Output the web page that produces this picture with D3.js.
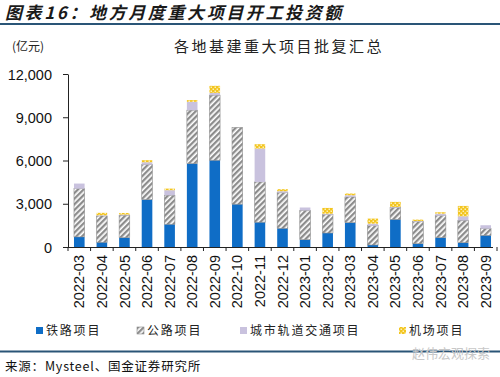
<!DOCTYPE html>
<html><head><meta charset="utf-8">
<script src="https://cdn.jsdelivr.net/npm/d3@7"></script>
<style>body{margin:0;background:#fff}svg{display:block}</style>
</head><body>
<script>
const categories = ["2022-03","2022-04","2022-05","2022-06","2022-07","2022-08","2022-09","2022-10","2022-11","2022-12","2023-01","2023-02","2023-03","2023-04","2023-05","2023-06","2023-07","2023-08","2023-09"];
const railway = [700,330,650,3290,1580,5790,6020,2970,1720,1300,510,970,1690,140,1920,230,650,300,810];
const highway = [3350,1820,1550,2430,2010,3700,4510,5320,2790,2470,2030,1280,1780,1340,820,1530,1530,1550,470];
const metro   = [350,50,50,160,350,580,160,0,2320,100,200,60,120,140,40,40,130,280,230];
const airport = [0,170,110,140,110,120,490,0,300,140,0,400,120,350,350,100,100,720,0];
const seriesNames = ["铁路项目","公路项目","城市轨道交通项目","机场项目"];
const yTicks = [0,3000,6000,9000,12000];

const W=500,H=377;
const svg=d3.select("body").append("svg").attr("width",W).attr("height",H);
const defs=svg.append("defs");
// hatch pattern
const hp=defs.append("pattern").attr("id","hatch").attr("patternUnits","userSpaceOnUse")
  .attr("width",4).attr("height",4).attr("patternTransform","rotate(45)");
hp.append("rect").attr("width",4).attr("height",4).attr("fill","#ffffff");
hp.append("rect").attr("width",2.3).attr("height",4).attr("fill","#8c8c8c");
// airport checker
const cp=defs.append("pattern").attr("id","check").attr("patternUnits","userSpaceOnUse")
  .attr("width",4).attr("height",4);
cp.append("rect").attr("width",4).attr("height",4).attr("fill","#f3c51f");
cp.append("rect").attr("x",0.5).attr("y",0.5).attr("width",1.5).attr("height",1.5).attr("fill","#fcefb5");
cp.append("rect").attr("x",2.5).attr("y",2.5).attr("width",1.5).attr("height",1.5).attr("fill","#fcefb5");

const fills=["#0f6dc6","url(#hatch)","#c9c2de","url(#check)"];
const strokes=["none","#8c8c8c","none","none"];

// Title
svg.append("text").attr("x",5).attr("y",19).text("图表16：地方月度重大项目开工投资额")
  .attr("font-family","Noto Sans CJK SC").attr("font-size",17).attr("font-weight","bold")
  .attr("font-style","italic").attr("letter-spacing",2.6).attr("fill","#1a1a1a");
svg.append("rect").attr("x",0).attr("y",23).attr("width",W).attr("height",2).attr("fill","#2a5577");
svg.append("rect").attr("x",0).attr("y",350.5).attr("width",W).attr("height",2).attr("fill","#2a5577");

svg.append("text").attr("x",12).attr("y",51).text("(亿元)")
  .attr("font-family","Noto Sans CJK SC").attr("font-size",12).attr("fill","#222");
svg.append("text").attr("x",279).attr("y",52).attr("text-anchor","middle").text("各地基建重大项目批复汇总")
  .attr("font-family","Noto Sans CJK SC").attr("font-size",15).attr("letter-spacing",2.5).attr("fill","#222");

const x=d3.scaleBand().domain(categories).range([68,497]).paddingInner(0.53).paddingOuter(0.265);
const y=d3.scaleLinear().domain([0,12000]).range([247,74]);

const data=categories.map((c,i)=>({cat:c,s0:railway[i],s1:highway[i],s2:metro[i],s3:airport[i]}));
const stack=d3.stack().keys(["s0","s1","s2","s3"])(data);

const g=svg.append("g");
stack.forEach((layer,k)=>{
  g.selectAll(null).data(layer).join("rect")
   .attr("x",d=>x(d.data.cat)).attr("width",x.bandwidth())
   .attr("y",d=>y(d[1])).attr("height",d=>Math.max(0,y(d[0])-y(d[1])))
   .attr("fill",fills[k]).attr("stroke",d=>(d[1]-d[0])>0?strokes[k]:"none").attr("stroke-width",0.6);
});

// Y axis
const ya=svg.append("g").attr("transform","translate(68,0)")
  .call(d3.axisLeft(y).tickValues(yTicks).tickFormat(d3.format(",")).tickSize(5).tickSizeOuter(0));
ya.select(".domain").attr("stroke","#222");
ya.selectAll(".tick line").attr("stroke","#222");
ya.selectAll("text").attr("font-family","Liberation Sans, Arial").attr("font-size",14.5).attr("fill","#111").attr("x",-16).attr("dy","0.35em");

// X axis
const xa=svg.append("g").attr("transform","translate(0,247)")
  .call(d3.axisBottom(x).tickSize(0).tickSizeOuter(0));
xa.select(".domain").attr("stroke","#222").attr("d","M63,0.5H493");
xa.selectAll(".tick text").attr("font-family","Liberation Sans, Arial").attr("font-size",14.5).attr("fill","#111")
  .attr("transform","rotate(-90)").attr("text-anchor","end").attr("x",-8).attr("y",0).attr("dy","0.35em");
const step=x.step();
svg.append("g").selectAll("line").data(d3.range(categories.length+1)).join("line")
  .attr("x1",i=>68+i*step).attr("x2",i=>68+i*step).attr("y1",247).attr("y2",251)
  .attr("stroke","#222");

// Legend
const legX=[36,137,240,399];
seriesNames.forEach((n,k)=>{
  svg.append("rect").attr("x",legX[k]).attr("y",327).attr("width",7).attr("height",7)
    .attr("fill",fills[k]).attr("stroke",k===1?"#8c8c8c":"none").attr("stroke-width",0.6);
  svg.append("text").attr("x",legX[k]+10).attr("y",335).text(n)
    .attr("font-family","Noto Sans CJK SC").attr("font-size",12).attr("letter-spacing",1.8).attr("fill","#222");
});

svg.append("text").attr("x",5).attr("y",371).text("来源：Mysteel、国金证券研究所")
  .attr("font-family","Noto Sans CJK SC").attr("font-size",12.5).attr("letter-spacing",0.8).attr("fill","#111");
// watermark
svg.append("text").attr("x",412).attr("y",358).text("赵伟宏观探索")
  .attr("font-family","Noto Sans CJK SC").attr("font-size",13).attr("fill","#c8c8c8");
</script>
</body></html>
